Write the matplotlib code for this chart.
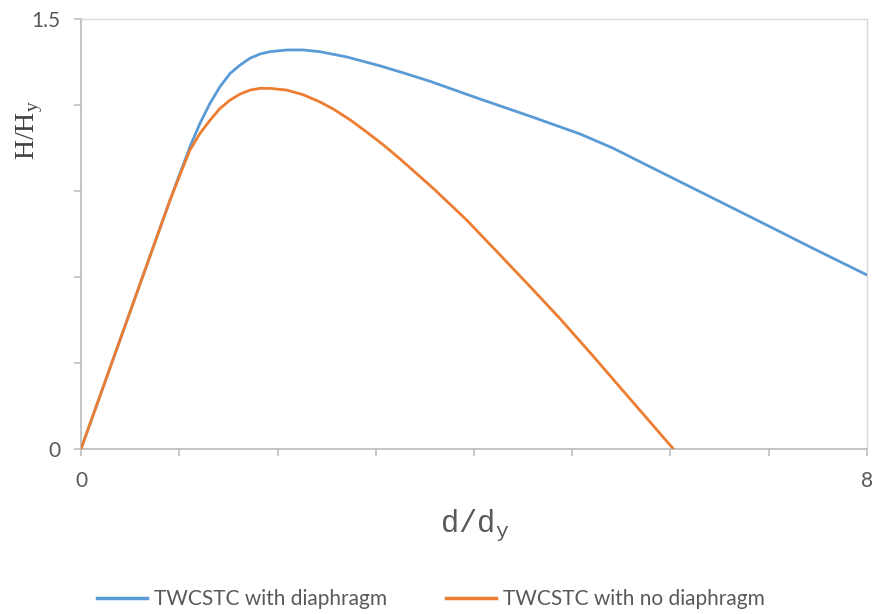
import numpy as np
import matplotlib.pyplot as plt
from matplotlib.lines import Line2D

# ---------- data ----------
x_diaphragm = [0, 0.906, 1.008, 1.109, 1.211, 1.313, 1.415, 1.517, 1.618, 1.72,
               1.822, 1.924, 2.094, 2.26, 2.43, 2.70, 3.04, 3.30, 3.55, 4.06,
               4.57, 5.079, 5.418, 5.69, 6.029, 6.368, 6.707, 7.114, 7.42, 8.0]
y_diaphragm = [0, 0.868, 0.962, 1.054, 1.136, 1.206, 1.264, 1.31, 1.339, 1.363,
               1.378, 1.386, 1.392, 1.392, 1.386, 1.368, 1.337, 1.31, 1.283, 1.221,
               1.161, 1.099, 1.049, 1.002, 0.944, 0.886, 0.828, 0.758, 0.705, 0.607]

x_no_diaphragm = [0, 0.906, 1.008, 1.109, 1.211, 1.313, 1.415, 1.517, 1.618, 1.72,
                  1.822, 1.924, 2.094, 2.26, 2.43, 2.568, 2.74, 2.907, 3.08, 3.247,
                  3.586, 3.925, 4.265, 4.55, 4.875, 5.21, 5.55, 6.03]
y_no_diaphragm = [0, 0.868, 0.957, 1.043, 1.101, 1.147, 1.188, 1.217, 1.238, 1.252,
                  1.258, 1.258, 1.252, 1.236, 1.211, 1.186, 1.148, 1.106, 1.06, 1.012,
                  0.909, 0.799, 0.677, 0.574, 0.455, 0.325, 0.19, 0.0]

labels = ["TWCSTC with diaphragm", "TWCSTC with no diaphragm"]
colors = ["#5B9BD5", "#ED7D31"]

x_ticks = np.arange(0, 9, 1)
y_ticks = np.arange(0, 1.51, 0.3)

# ---------- figure ----------
fig = plt.figure(figsize=(8.75, 6.14), dpi=100)
ax = fig.add_axes([81/875, 1 - 449/614, (867-81)/875, (449-19)/614])

for xs, ys, c in [(x_diaphragm, y_diaphragm, colors[0]),
                  (x_no_diaphragm, y_no_diaphragm, colors[1])]:
    ax.plot(xs, ys, color=c, lw=2.0, solid_joinstyle="round",
            solid_capstyle="round", zorder=3)

ax.set_xlim(0, 8)
ax.set_ylim(0, 1.5)

ax.set_xticks(x_ticks)
ax.set_xticklabels(["0"] + [""]*7 + ["8"])
ax.set_yticks(y_ticks)
ax.set_yticklabels(["0"] + [""]*4 + ["1.5"])

for lab in ax.get_xticklabels() + ax.get_yticklabels():
    lab.set_fontfamily(["Lato", "DejaVu Sans"])
    lab.set_fontsize(15)
    lab.set_color("#595959")

ax.tick_params(axis="x", direction="out", length=5, width=1.2, color="#BFBFBF", pad=11)
ax.tick_params(axis="y", direction="out", length=5, width=1.2, color="#BFBFBF", pad=10)

for side in ["left", "bottom"]:
    ax.spines[side].set_color("#BFBFBF")
    ax.spines[side].set_linewidth(1.3)
for side in ["top", "right"]:
    ax.spines[side].set_color("#D9D9D9")
    ax.spines[side].set_linewidth(1.0)

# axis titles
fig.text(30/875, 1 - 130/614, r"H/H$_\mathregular{y}$", rotation=90, ha="center", va="center",
         fontsize=20, family="Liberation Serif", color="#404040")
fig.text(475/875, 1 - 525/614, r"d/d$_\mathregular{y}$", ha="center", va="center",
         fontsize=22, family="Liberation Mono", color="#595959")

# legend
handles = [Line2D([], [], color=c, lw=2.5) for c in colors]
leg = fig.legend(handles, labels, loc="center", bbox_to_anchor=(431/875, 1 - 599/614),
                 ncol=2, frameon=False, handlelength=2.4, handletextpad=0.35,
                 columnspacing=2.8, prop={"family": ["Lato", "DejaVu Sans"], "size": 15})
for t in leg.get_texts():
    t.set_color("#595959")

fig.savefig("out.png", dpi=100)
